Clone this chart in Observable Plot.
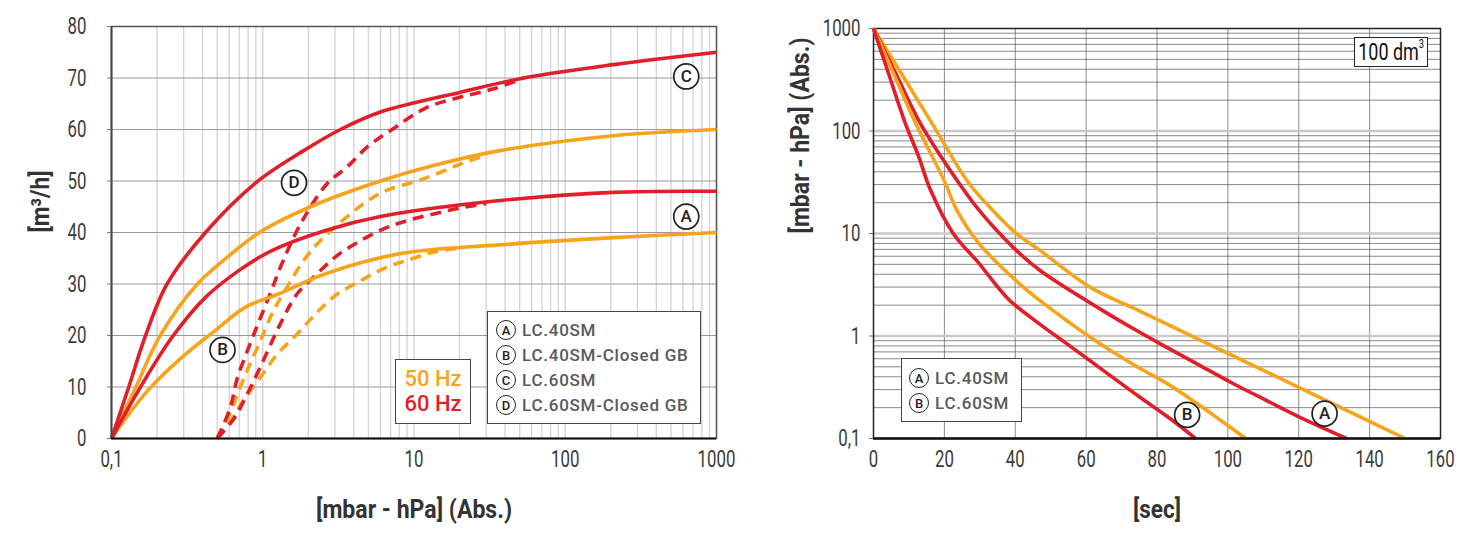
<!DOCTYPE html>
<html>
<head>
<meta charset="utf-8">
<script src="https://cdn.jsdelivr.net/npm/d3@7"></script>
<script src="https://cdn.jsdelivr.net/npm/@observablehq/plot@0.6"></script>
<style>
  body { margin: 0; background: #fff; }
  #wrap { position: relative; width: 1471px; height: 536px; overflow: hidden; background: #fff; }
  #left { position: absolute; left: 0; top: 0; }
  #right { position: absolute; left: 740px; top: 0; }
  svg { overflow: visible; }
  .box { position: absolute; background: #fff; box-sizing: border-box; border: 1.5px solid #444; }
  .row { position: absolute; left: 0; height: 24px; display: flex; align-items: center; white-space: nowrap;
         font-family: Roboto, "DejaVu Sans", sans-serif; font-weight: 500; font-size: 17px; letter-spacing: 0.75px; color: #5a5a5a; }
  .circ { display: inline-flex; align-items: center; justify-content: center; width: 20px; height: 20px; border: 1.7px solid #222;
          border-radius: 50%; font-size: 13px; font-weight: 500; color: #222; letter-spacing: 0; margin-right: 6px; box-sizing: border-box; }
  .hz { position: absolute; left: 0; width: 100%; text-align: center; font-family: Roboto, "DejaVu Sans", sans-serif; font-weight: 500; font-size: 22px; line-height: 26px; }
</style>
</head>
<body>
<div id="wrap">
  <div id="left"></div>
  <div id="right"></div>
</div>
<script>
// ---------------- LEFT CHART DATA: pressure [mbar] vs flow [m3/h] ----------------
const leftXTicks = [0.1, 1, 10, 100, 1000];
const leftXTickLabels = ["0,1", "1", "10", "100", "1000"];
const leftYTicks = [0, 10, 20, 30, 40, 50, 60, 70, 80];

// C : LC.60SM, 60 Hz (solid red)
const lc60sm60 = [[0.1,0],[0.13,10],[0.168,20],[0.233,30],[0.418,40],[0.895,49.6],[1.82,55.7],[3.26,60],[6,63.4],[20,67.2],[53,70],[208,72.6],[1000,75]];
// LC.60SM, 50 Hz (solid orange)
const lc60sm50 = [[0.1,0],[0.145,10],[0.21,20],[0.37,30],[0.6,35.5],[0.95,40],[2.07,45],[6,50],[13.4,53],[37,55.9],[208,58.8],[1000,60]];
// A : LC.40SM, 60 Hz (solid red)
const lc40sm60 = [[0.1,0],[0.16,10.6],[0.252,19.7],[0.418,27.4],[0.694,32.6],[1.15,36.5],[2.6,40.4],[6,43.1],[37,46.2],[208,47.8],[1000,48]];
// LC.40SM, 50 Hz (solid orange)
const lc40sm50 = [[0.1,0],[0.17,9],[0.293,15.8],[0.487,21],[0.769,25.5],[1.28,28.1],[2.6,32],[8.1,35.9],[37,37.6],[208,39],[1000,40]];
// D : LC.60SM-Closed GB, 60 Hz (dashed red)
const lc60cg60 = [[0.5,0],[0.61,6],[0.677,11.6],[0.808,17.7],[0.94,22.6],[1.12,28.1],[1.31,33.3],[1.78,41.7],[2.67,49.5],[3.61,52.7],[4.9,56.6],[7,59.8],[12.2,64.3],[20.3,66.3],[33.6,67.9],[53,70]];
// LC.60SM-Closed GB, 50 Hz (dashed orange)
const lc60cg50 = [[0.5,0],[0.6,4.5],[0.7,9.5],[0.808,13.9],[0.966,19],[1.15,24.2],[1.38,28.4],[1.87,34.6],[2.4,38.4],[4.65,45.6],[6.6,48.2],[10,49.8],[14.2,51.4],[20.3,53.3],[30,55]];
// B : LC.40SM-Closed GB, 60 Hz (dashed red)
const lc40cg60 = [[0.5,0],[0.65,4],[0.77,8],[0.94,13.2],[1.34,22.9],[1.69,28.1],[2.29,32],[3.1,35.5],[4.42,38.4],[6.3,40.7],[9,42.3],[13.5,43.6],[20.3,44.8],[30,45.6]];
// LC.40SM-Closed GB, 50 Hz (dashed orange)
const lc40cg50 = [[0.5,0],[0.6,3],[0.75,7.5],[0.966,11.9],[1.25,16.4],[1.69,20.3],[2.29,24.5],[3.1,28],[4.42,30.6],[6.3,33],[9,34.6],[13.5,36.2],[20,37]];

const leftLabels = [
  {t: "C", x: 631, y: 70.3},
  {t: "A", x: 631, y: 43.1},
  {t: "D", x: 1.61, y: 49.65},
  {t: "B", x: 0.542, y: 17.2}
];

// ---------------- RIGHT CHART DATA: time [s] vs pressure [mbar] ----------------
const rightXTicks = [0, 20, 40, 60, 80, 100, 120, 140, 160];
const rightYTicks = [0.1, 1, 10, 100, 1000];
const rightYTickLabels = ["0,1", "1", "10", "100", "1000"];

// B : LC.60SM
const pd60sm60 = [[0,1000],[3.8,405],[8.9,121],[12.7,57],[16,27],[22.5,10],[29.6,5.2],[38,2.3],[47,1.3],[55,0.82],[65,0.457],[75,0.255],[83,0.163],[90.9,0.1]];
const pd60sm50 = [[0,1000],[5.6,367],[11.8,121],[20.2,31.3],[23.4,17.2],[29.6,8.1],[40.9,3.3],[47.1,2.2],[61.2,0.97],[73.4,0.524],[83,0.341],[91.4,0.218],[105,0.1]];
// A : LC.40SM
const pd40sm60 = [[0,1000],[6.6,345],[12.7,128],[22.1,39.2],[29.6,17.2],[40,7],[47.1,4.33],[64,1.83],[73.5,1.17],[82.9,0.77],[92.3,0.512],[101.7,0.34],[111.1,0.233],[120.5,0.16],[133.5,0.1]];
const pd40sm50 = [[0,1000],[8.5,334],[16,127],[26.8,31.3],[33,17.8],[40,10.2],[47.1,6.8],[61.2,2.98],[75,1.76],[90,0.99],[105,0.56],[120,0.316],[135,0.178],[150,0.1]];

const rightLabels = [
  {t: "B", x: 88.5, y: 0.17},
  {t: "A", x: 127.3, y: 0.175}
];

// ---------------- STYLES ----------------
const ORANGE = "#f7a41d";
const RED = "#e01f2b";
const TICKFONT = 'Roboto, "DejaVu Sans", sans-serif';
const LW = 3.6;
const DASH = "11,7";

function lineMark(data, color, dashed) {
  return Plot.line(data, {
    x: d => d[0], y: d => d[1], stroke: color, strokeWidth: LW,
    strokeDasharray: dashed ? DASH : null, curve: "catmull-rom", strokeLinecap: "butt"
  });
}
function circledLabels(labels) {
  return [
    Plot.dot(labels, {x: "x", y: "y", r: 12.5, fill: "white", stroke: "#222", strokeWidth: 1.7}),
    Plot.text(labels, {x: "x", y: "y", text: "t", fontSize: 17, fontWeight: 500, fill: "#222",
      fontFamily: 'Roboto, "DejaVu Sans", sans-serif'})
  ];
}
function title(text, anchor, offset, rotate) {
  const o = {text: d => d, frameAnchor: anchor, fontSize: 26, fontWeight: "bold", fill: "#333"};
  if (rotate) { o.rotate = -90; o.dx = offset; } else { o.dy = offset; }
  return Plot.text([text], o);
}

const logMinor = d3.scaleLog().domain([0.1, 1000]).ticks();

// ---------------- LEFT PLOT ----------------
const left = Plot.plot({
  width: 740, height: 536,
  marginLeft: 111, marginRight: 24, marginTop: 26, marginBottom: 98,
  x: {type: "log", domain: [0.1, 1000]},
  y: {domain: [0, 80]},
  style: {fontFamily: TICKFONT, fontSize: "24px", color: "#3c3c3c", background: "transparent", overflow: "visible"},
  marks: [
    Plot.gridX(logMinor, {stroke: "#d6d6d6", strokeOpacity: 1, strokeWidth: 1.4}),
    Plot.gridY(leftYTicks.slice(1, -1), {stroke: "#999", strokeOpacity: 1, strokeWidth: 1}),
    Plot.frame({stroke: "#555", strokeWidth: 1.5}),
    lineMark(lc40cg50, ORANGE, true),
    lineMark(lc60cg50, ORANGE, true),
    lineMark(lc40cg60, RED, true),
    lineMark(lc60cg60, RED, true),
    lineMark(lc40sm50, ORANGE, false),
    lineMark(lc60sm50, ORANGE, false),
    lineMark(lc40sm60, RED, false),
    lineMark(lc60sm60, RED, false),
    Plot.ruleX([0.1], {stroke: "#444", strokeWidth: 1.8}),
    Plot.ruleY([0], {stroke: "#111", strokeWidth: 2.2}),
    ...circledLabels(leftLabels),
    Plot.axisX({ticks: leftXTicks, tickFormat: d => leftXTickLabels[leftXTicks.indexOf(d)], tickSize: 0, tickPadding: 11, label: null}),
    Plot.axisY({ticks: leftYTicks, tickSize: 4, tickPadding: 21, label: null, stroke: "#777"}),
    title("[m³/h]", "left", -71, true),
    title("[mbar - hPa] (Abs.)", "bottom", 79, false)
  ]
});
document.getElementById("left").appendChild(left);

// ---------------- RIGHT PLOT ----------------
const decades = [1, 10, 100];
const rightMinor = logMinor.filter(v => !rightYTicks.some(t => Math.abs(t - v) / t < 1e-6));
const right = Plot.plot({
  width: 731, height: 536,
  marginLeft: 133, marginRight: 31, marginTop: 28, marginBottom: 98,
  x: {domain: [0, 160]},
  y: {type: "log", domain: [0.1, 1000]},
  style: {fontFamily: TICKFONT, fontSize: "24px", color: "#3c3c3c", background: "transparent", overflow: "visible"},
  marks: [
    Plot.gridX(rightXTicks.slice(1, -1), {stroke: "#8c8c8c", strokeOpacity: 1, strokeWidth: 1}),
    Plot.gridY(decades, {stroke: "#c9c9c9", strokeOpacity: 1, strokeWidth: 2.6}),
    Plot.gridY(rightMinor, {stroke: "#555", strokeOpacity: 1, strokeWidth: 0.7}),
    Plot.frame({stroke: "#222", strokeWidth: 1.5}),
    lineMark(pd40sm50, ORANGE, false),
    lineMark(pd40sm60, RED, false),
    lineMark(pd60sm50, ORANGE, false),
    lineMark(pd60sm60, RED, false),
    Plot.ruleY([0.1], {stroke: "#111", strokeWidth: 2.4}),
    ...circledLabels(rightLabels),
    Plot.axisX({ticks: rightXTicks, tickSize: 0, tickPadding: 11, label: null}),
    Plot.axisY({ticks: rightYTicks, tickFormat: d => rightYTickLabels[rightYTicks.indexOf(d)], tickSize: 4, tickPadding: 9, label: null, stroke: "#777"}),
    title("[mbar - hPa] (Abs.)", "left", -73, true),
    title("[sec]", "bottom", 79, false)
  ]
});
document.getElementById("right").appendChild(right);

// ---------------- condensed look: narrow the real text glyphs ----------------
const titleLen = {"[m³/h]": 62, "[mbar - hPa] (Abs.)": 196, "[sec]": 48};
function narrowAll(svg) {
  svg.querySelectorAll('g[aria-label="x-axis tick label"] text, g[aria-label="y-axis tick label"] text').forEach(t => {
    const w = t.getComputedTextLength();
    t.setAttribute("textLength", (w * 0.7).toFixed(1));
    t.setAttribute("lengthAdjust", "spacingAndGlyphs");
  });
  svg.querySelectorAll("text").forEach(t => {
    const s = t.textContent.trim();
    if (titleLen[s] !== undefined) {
      t.setAttribute("textLength", String(titleLen[s]));
      t.setAttribute("lengthAdjust", "spacingAndGlyphs");
    }
  });
}
narrowAll(left);
narrowAll(right);

// ---------------- LEGEND BOXES (HTML overlays) ----------------
const wrap = document.getElementById("wrap");
function box(l, t, w, h, border) {
  const b = document.createElement("div");
  b.className = "box";
  Object.assign(b.style, {left: l + "px", top: t + "px", width: w + "px", height: h + "px"});
  if (border) b.style.border = border;
  wrap.appendChild(b);
  return b;
}
const hzItems = [{t: "50 Hz", c: ORANGE}, {t: "60 Hz", c: RED}];
const hzBox = box(395, 359, 76, 65);
hzItems.forEach((it, i) => {
  const d = document.createElement("div");
  d.className = "hz";
  d.textContent = it.t;
  d.style.color = it.c;
  d.style.top = (6 + i * 25) + "px";
  hzBox.appendChild(d);
});

function legend(l, t, w, h, items, firstRowCenter, leftPad) {
  const b = box(l, t, w, h);
  items.forEach((it, i) => {
    const r = document.createElement("div");
    r.className = "row";
    r.style.top = (firstRowCenter - 12 + i * 25) + "px";
    r.style.left = leftPad + "px";
    const c = document.createElement("span");
    c.className = "circ";
    c.textContent = it[0];
    r.appendChild(c);
    r.appendChild(document.createTextNode(it[1]));
    b.appendChild(r);
  });
}
const leftLegendItems = [["A", "LC.40SM"], ["B", "LC.40SM-Closed GB"], ["C", "LC.60SM"], ["D", "LC.60SM-Closed GB"]];
const rightLegendItems = [["A", "LC.40SM"], ["B", "LC.60SM"]];
legend(487, 311, 214, 113, leftLegendItems, 18, 8);
legend(901, 358, 121, 64, rightLegendItems, 19, 7);

// "100 dm3" box
const dm = box(1354, 37, 74, 30, "1.5px solid #222");
dm.innerHTML = '<div style="position:absolute;left:0;top:0;width:100%;height:100%;display:flex;align-items:center;justify-content:center;white-space:nowrap;">' +
  '<span style="display:inline-block;transform:scaleX(0.78);font-family:Roboto,sans-serif;font-size:23px;color:#111;white-space:nowrap;">100 dm<sup style="font-size:12px;line-height:0;position:relative;top:-3px;">3</sup></span></div>';
</script>
</body>
</html>
